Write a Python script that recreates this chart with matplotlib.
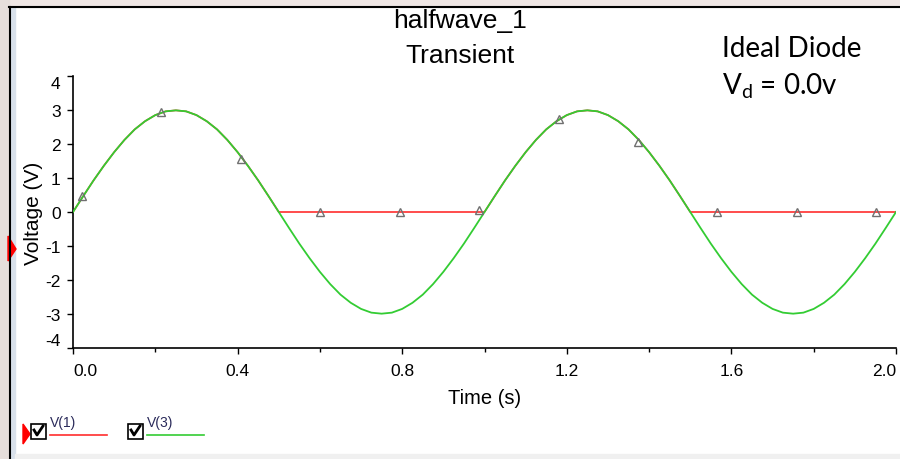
import matplotlib
matplotlib.use("Agg")
import matplotlib.pyplot as plt
from matplotlib.patches import Rectangle, Polygon
from matplotlib.lines import Line2D

# simulation output (step 0.025 s)
time = [i * 0.025 for i in range(81)]
v3 = [0.00, 0.47, 0.93, 1.36, 1.76, 2.12, 2.43, 2.67, 2.85, 2.96,
      2.99, 2.96, 2.85, 2.67, 2.43, 2.12, 1.76, 1.36, 0.93, 0.47,
      0.00, -0.47, -0.93, -1.36, -1.76, -2.12, -2.43, -2.67, -2.85, -2.96,
      -2.99, -2.96, -2.85, -2.67, -2.43, -2.12, -1.76, -1.36, -0.93, -0.47,
      0.00, 0.47, 0.93, 1.36, 1.76, 2.12, 2.43, 2.67, 2.85, 2.96,
      2.99, 2.96, 2.85, 2.67, 2.43, 2.12, 1.76, 1.36, 0.93, 0.47,
      0.00, -0.47, -0.93, -1.36, -1.76, -2.12, -2.43, -2.67, -2.85, -2.96,
      -2.99, -2.96, -2.85, -2.67, -2.43, -2.12, -1.76, -1.36, -0.93, -0.47,
      0.00]
v1 = [0.00, 0.47, 0.93, 1.36, 1.76, 2.12, 2.43, 2.67, 2.85, 2.96,
      2.99, 2.96, 2.85, 2.67, 2.43, 2.12, 1.76, 1.36, 0.93, 0.47,
      0.00, 0.00, 0.00, 0.00, 0.00, 0.00, 0.00, 0.00, 0.00, 0.00,
      0.00, 0.00, 0.00, 0.00, 0.00, 0.00, 0.00, 0.00, 0.00, 0.00,
      0.00, 0.47, 0.93, 1.36, 1.76, 2.12, 2.43, 2.67, 2.85, 2.96,
      2.99, 2.96, 2.85, 2.67, 2.43, 2.12, 1.76, 1.36, 0.93, 0.47,
      0.00, 0.00, 0.00, 0.00, 0.00, 0.00, 0.00, 0.00, 0.00, 0.00,
      0.00, 0.00, 0.00, 0.00, 0.00, 0.00, 0.00, 0.00, 0.00, 0.00,
      0.00]

# cursor markers
mark_t = [0.022, 0.215, 0.408, 0.601, 0.794, 0.987, 1.18, 1.373, 1.566, 1.759, 1.952]
mark_v = [0.47, 2.94, 1.56, 0.0, 0.0, 0.05, 2.74, 2.06, 0.0, 0.0, 0.0]

x_ticks = [0.0, 0.4, 0.8, 1.2, 1.6, 2.0]
x_labels = ["0.0", "0.4", "0.8", "1.2", "1.6", "2.0"]
y_ticks = [-4, -3, -2, -1, 0, 1, 2, 3, 4]

plt.rcParams["font.family"] = ["Liberation Sans", "DejaVu Sans"]
plt.rcParams["mathtext.fontset"] = "custom"
plt.rcParams["mathtext.rm"] = "Lato"
plt.rcParams["axes.unicode_minus"] = False

W, H = 900, 460
fig = plt.figure(figsize=(9, 4.6), dpi=100)
fig.patch.set_facecolor("white")

def fx(px):
    return px / W

def fy(py):
    return 1 - py / H

# window chrome
fig.add_artist(Rectangle((0, fy(8)), 1, 8 / H, transform=fig.transFigure,
                         color="#efe6e4", zorder=0))
fig.add_artist(Rectangle((0, 0), fx(9), 1, transform=fig.transFigure,
                         color="#e6dedb", zorder=0))
fig.add_artist(Rectangle((fx(11), 0), fx(4), fy(8), transform=fig.transFigure,
                         color="#d8e0ea", zorder=0))
fig.add_artist(Rectangle((fx(15), 0), 1, fy(455), transform=fig.transFigure,
                         color="#f0f0f0", zorder=0))
fig.add_artist(Line2D([fx(9), 1], [fy(8), fy(8)], transform=fig.transFigure,
                      color="black", lw=1.5))
fig.add_artist(Line2D([fx(10), fx(10)], [0, fy(8)], transform=fig.transFigure,
                      color="black", lw=1.5))
fig.add_artist(Polygon([[fx(8), fy(237)], [fx(16), fy(250)], [fx(8), fy(262)]],
                       closed=True, transform=fig.transFigure, color="red"))

ax = fig.add_axes([fx(73), fy(349), fx(896 - 73), (349 - 77) / H])
ax.plot(time, v1, color="#ff2e2e", lw=1.2, zorder=2)
ax.plot(time, v3, color="#33cc33", lw=1.3, zorder=3)
ax.plot(mark_t, mark_v, linestyle="none", marker="^", markersize=6,
        markerfacecolor="none", markeredgecolor="#707070", markeredgewidth=1.0, zorder=4)

ax.set_xlim(0, 2.0)
ax.set_ylim(-4, 4)
ax.set_xticks(x_ticks)
ax.set_xticklabels(x_labels)
ax.set_xticks([0.2, 0.6, 1.0, 1.4, 1.8], minor=True)
ax.set_yticks(y_ticks)
ax.tick_params(axis="both", direction="out", length=4, width=1, labelsize=12.5, pad=5)
ax.tick_params(axis="x", pad=7)
ax.tick_params(axis="x", which="minor", length=3, width=1)
xl = ax.get_xticklabels()
xl[0].set_ha("left")
xl[-1].set_ha("right")
yl = ax.get_yticklabels()
yl[0].set_va("bottom")
yl[-1].set_va("top")
for s in ["top", "right"]:
    ax.spines[s].set_visible(False)
for s in ["left", "bottom"]:
    ax.spines[s].set_linewidth(1.2)

ax.set_xlabel("Time (s)", fontsize=14.5, labelpad=7)
ax.set_ylabel("Voltage (V)", fontsize=15)
ax.yaxis.set_label_coords(-0.037, 0.5)

fig.text(fx(460), fy(21), "halfwave_1", ha="center", va="center", fontsize=19)
fig.text(fx(460), fy(56), "Transient", ha="center", va="center", fontsize=19)

fig.text(fx(722), fy(49), "Ideal Diode", ha="left", va="center", fontsize=20,
         family=["Lato", "DejaVu Sans"])
fig.text(fx(722), fy(86), r"V$_{\rm d}$ = 0.0v", ha="left", va="center", fontsize=20,
         family=["Lato", "DejaVu Sans"])

# legend row with check boxes
fig.add_artist(Polygon([[fx(23), fy(425)], [fx(30), fy(435)], [fx(23), fy(445)]],
                       closed=True, transform=fig.transFigure, color="red"))
for bx, name, col, lx in [(31, "V(1)", "#ff2e2e", 50), (128, "V(3)", "#33cc33", 147)]:
    fig.add_artist(Rectangle((fx(bx), fy(440)), fx(15), 15 / H, transform=fig.transFigure,
                             facecolor="white", edgecolor="black", lw=1.2))
    fig.add_artist(Line2D([fx(bx + 3), fx(bx + 6), fx(bx + 12)],
                          [fy(431), fy(436), fy(427)], transform=fig.transFigure,
                          color="black", lw=2))
    fig.text(fx(lx), fy(423), name, ha="left", va="center", fontsize=10, color="#2a2a5a")
    fig.add_artist(Line2D([fx(lx), fx(lx + 57)], [fy(436), fy(436)],
                          transform=fig.transFigure, color=col, lw=1.2))

fig.savefig("out.png", dpi=100)
